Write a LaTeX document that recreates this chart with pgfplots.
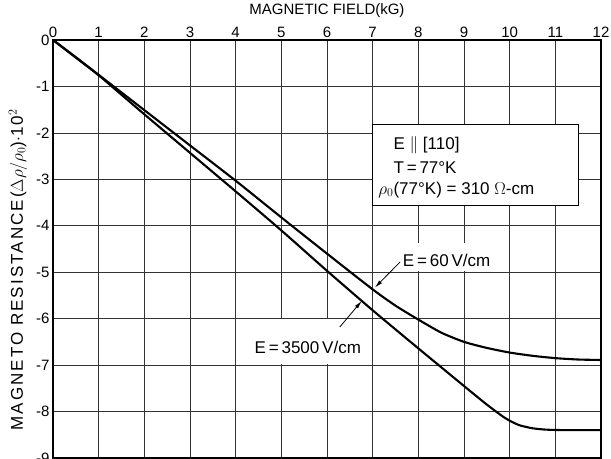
\documentclass[border=0pt]{standalone}
\usepackage{fontspec}
\setmainfont{Liberation Sans}
\newfontfamily\wide[LetterSpace=12]{Liberation Sans}
\usepackage{pgfplots}
\pgfplotsset{compat=1.18}
\usetikzlibrary{arrows.meta}
\pgfplotstableread{
x y
0 0
0.5 -0.38
1 -0.76
1.5 -1.18
2 -1.6
3 -2.43
4 -3.26
5 -4.1
6 -4.97
7 -5.82
8 -6.64
9 -7.45
9.5 -7.85
9.9 -8.14
10.2 -8.29
10.5 -8.36
10.8 -8.39
11.2 -8.4
12 -8.4
}\lowcurve
\pgfplotstableread{
x y
0 0
0.5 -0.37
1 -0.75
1.5 -1.13
2 -1.51
3 -2.27
4 -3.03
5 -3.82
6 -4.6
7 -5.37
7.5 -5.72
8 -6.02
8.5 -6.3
9 -6.5
9.5 -6.63
10 -6.73
10.5 -6.8
11 -6.85
11.5 -6.88
12 -6.89
}\highcurve
\begin{document}
\begin{tikzpicture}
\begin{axis}[
  name=ax, scale only axis, width=548pt, height=418pt,
  xmin=0, xmax=12, ymin=-9, ymax=0,
  xtick={0,1,...,12}, xticklabels={0,1,2,3,4,5,6,7,8,9,10,11,12},
  ytick={0,-1,-2,-3,-4,-5,-6,-7,-8,-9},
  yticklabels={0,-1,-2,-3,-4,-5,-6,-7,-8,-9},
  xticklabel pos=top,
  grid=major, major grid style={black!80, line width=0.75pt},
  major tick length=0pt,
  axis line style={black, line width=1.1pt},
  ticklabel style={font=\fontsize{15}{17}\selectfont},
  xticklabel style={yshift=-1pt},
  clip=false,
]
\addplot[black, line width=2.1pt, smooth, tension=0.4] table {\lowcurve};
\addplot[black, line width=2.1pt, smooth, tension=0.4] table {\highcurve};
% info box
\draw[black, line width=0.9pt, fill=white] (axis cs:7.0,-1.81) rectangle (axis cs:11.5,-3.56);
\node[anchor=west, font=\fontsize{17}{19}\selectfont] at (axis cs:7.38,-2.26) {E\;$\parallel$\;[110]};
\node[anchor=west, font=\fontsize{17}{19}\selectfont] at (axis cs:7.38,-2.74) {T\,=\,77°K};
\node[anchor=west, font=\fontsize{17}{19}\selectfont] at (axis cs:7.05,-3.23) {$\rho_0$(77°K) = 310 $\Omega$-cm};
% labels
\fill[white] (axis cs:7.49,-4.37) rectangle (axis cs:9.85,-4.97);
\node[font=\fontsize{17}{19}\selectfont] at (axis cs:8.62,-4.74) {E\,=\,60\,V/cm};
\draw[line width=0.8pt, -{Latex[length=8pt,width=4pt]}] (axis cs:7.6,-4.78) -- (axis cs:7.05,-5.33);
\fill[white] (axis cs:4.05,-6.0) rectangle (axis cs:6.03,-6.97);
\node[font=\fontsize{17}{19}\selectfont] at (axis cs:5.58,-6.62) {E\,=\,3500\,V/cm};
\draw[line width=0.8pt, -{Latex[length=8pt,width=4pt]}] (axis cs:6.28,-6.18) -- (axis cs:6.76,-5.62);
% axis titles
\node[font=\fontsize{15}{17}\selectfont, anchor=south] at ([yshift=19pt]rel axis cs:0.5,1) {MAGNETIC FIELD(kG)};
\node[font=\fontsize{17}{19}\selectfont, rotate=90] at ([xshift=-35pt]rel axis cs:0,0.45) {\wide MAGNETO RESISTANCE($\Delta\rho/\rho_0$)$\cdot$10$^2$};
\end{axis}
\pgfresetboundingbox
\path[use as bounding box] ([xshift=-53pt,yshift=-1pt]ax.south west) rectangle ([xshift=10pt,yshift=40pt]ax.north east);
\end{tikzpicture}
\end{document}
